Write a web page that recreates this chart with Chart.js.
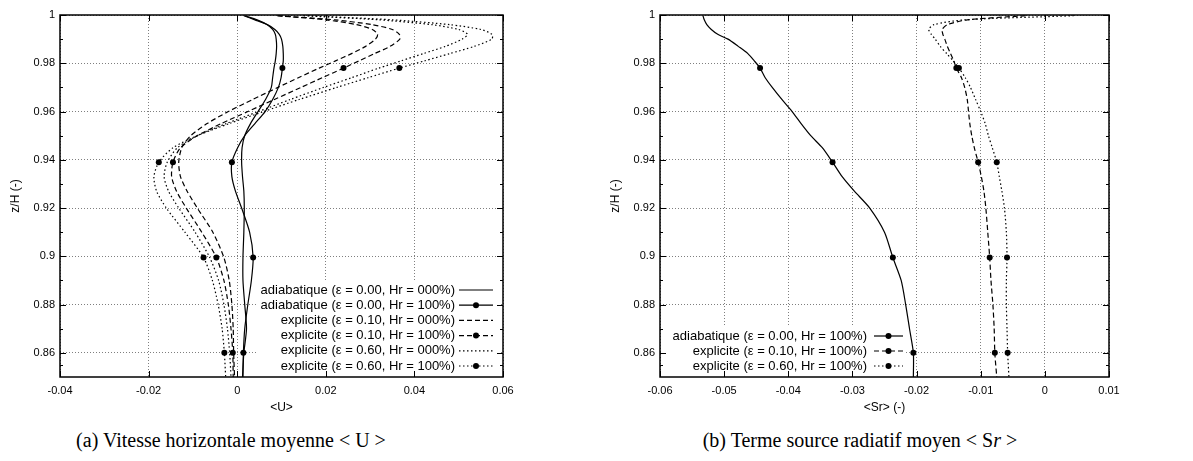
<!DOCTYPE html>
<html lang="fr">
<head>
<meta charset="utf-8">
<script src="https://cdn.jsdelivr.net/npm/chart.js@4/dist/chart.umd.min.js"></script>
<style>
  html, body { margin: 0; padding: 0; background: #fff; }
  #wrap { position: relative; width: 1193px; height: 461px; overflow: hidden; }
  canvas { position: absolute; top: 0; }
  #chart-u { left: 0; }
  #chart-sr { left: 600px; }
  .caption {
    position: absolute; top: 429px; white-space: nowrap; color: #000; transform: translateX(-50%);
    font-family: 'Liberation Serif', 'DejaVu Serif', serif; font-size: 20px;
  }
</style>
</head>
<body>
<div id="wrap">
  <canvas id="chart-u" width="596" height="425"></canvas>
  <canvas id="chart-sr" width="593" height="425"></canvas>
  <div class="caption" style="left:231px">(a) Vitesse horizontale moyenne &lt; U &gt;</div>
  <div class="caption" style="left:860px">(b) Terme source radiatif moyen &lt; S<i>r</i> &gt;</div>
</div>
<script>
// ─── Data ─────────────────────────────────────────────────────────────────────

const Z_LEVELS = [0.9997, 0.998, 0.996, 0.994, 0.992, 0.99, 0.987, 0.984, 0.981, 0.978,
  0.974, 0.97, 0.965, 0.96, 0.955, 0.95, 0.945, 0.939, 0.933, 0.927,
  0.92, 0.91, 0.8995, 0.89, 0.88, 0.87, 0.86, 0.85];
const MARKED_Z = [0.978, 0.939, 0.8995, 0.86];

const U_ADIA_000 = [0.0017, 0.0045, 0.0068, 0.0080, 0.0086, 0.0088, 0.0089, 0.0088, 0.0086, 0.0083,
  0.0080, 0.0077, 0.0064, 0.0047, 0.0030, 0.0017, 0.0011, 0.0010, 0.0012, 0.0015,
  0.0016, 0.0015, 0.0013, 0.0013, 0.0017, 0.0021, 0.0015, 0.0012];
const U_ADIA_100 = [0.0015, 0.0040, 0.0068, 0.0085, 0.0095, 0.0100, 0.0103, 0.0104, 0.0104, 0.0102,
  0.0099, 0.0093, 0.0080, 0.0063, 0.0040, 0.0017, 0.0001, -0.0012, -0.0012, -0.0004,
  0.0010, 0.0028, 0.0036, 0.0032, 0.0024, 0.0017, 0.0014, 0.0013];
const U_EXPL10_000 = [0.0090, 0.0200, 0.0270, 0.0305, 0.0317, 0.0312, 0.0290, 0.0258, 0.0222, 0.0185,
  0.0138, 0.0092, 0.0035, -0.0020, -0.0068, -0.0105, -0.0125, -0.0132, -0.0128, -0.0113,
  -0.0090, -0.0055, -0.0030, -0.0018, -0.0012, -0.0009, -0.0008, -0.0006];
const U_EXPL10_100 = [0.0092, 0.0220, 0.0305, 0.0350, 0.0366, 0.0367, 0.0345, 0.0310, 0.0275, 0.0240,
  0.0192, 0.0144, 0.0084, 0.0024, -0.0036, -0.0090, -0.0128, -0.0145, -0.0148, -0.0137,
  -0.0115, -0.0080, -0.0047, -0.0030, -0.0020, -0.0014, -0.0010, -0.0009];
const U_EXPL60_000 = [0.0150, 0.0320, 0.0440, 0.0500, 0.0520, 0.0508, 0.0470, 0.0420, 0.0370, 0.0320,
  0.0258, 0.0195, 0.0120, 0.0048, -0.0025, -0.0090, -0.0135, -0.0158, -0.0165, -0.0155,
  -0.0132, -0.0095, -0.0062, -0.0042, -0.0030, -0.0022, -0.0017, -0.0014];
const U_EXPL60_100 = [0.0160, 0.0350, 0.0480, 0.0550, 0.0575, 0.0575, 0.0535, 0.0480, 0.0423, 0.0366,
  0.0295, 0.0225, 0.0140, 0.0060, -0.0018, -0.0090, -0.0145, -0.0177, -0.0188, -0.0182,
  -0.0160, -0.0118, -0.0076, -0.0056, -0.0043, -0.0034, -0.0029, -0.0026];

const SR_ADIA_100 = [-0.0533, -0.0531, -0.0527, -0.0520, -0.0510, -0.0494, -0.0478, -0.0463, -0.0453, -0.0444,
  -0.0436, -0.0425, -0.0410, -0.0394, -0.0380, -0.0365, -0.0347, -0.0331, -0.0316, -0.0297,
  -0.0273, -0.0250, -0.0237, -0.0224, -0.0217, -0.0211, -0.0205, -0.0205];
const SR_EXPL10_100 = [-0.0030, -0.0121, -0.0152, -0.0160, -0.0159, -0.0156, -0.0152, -0.0147, -0.0142, -0.0138,
  -0.0130, -0.0125, -0.0121, -0.0119, -0.0117, -0.0114, -0.0110, -0.0104, -0.0099, -0.0095,
  -0.0092, -0.0089, -0.0086, -0.0084, -0.0081, -0.0079, -0.0078, -0.0075];
const SR_EXPL60_100 = [0.0045, -0.0125, -0.0173, -0.0181, -0.0177, -0.0171, -0.0163, -0.0153, -0.0143, -0.0134,
  -0.0124, -0.0116, -0.0108, -0.0100, -0.0093, -0.0088, -0.0082, -0.0075, -0.0071, -0.0067,
  -0.0063, -0.0060, -0.0059, -0.0060, -0.0060, -0.0059, -0.0058, -0.0056];

const U_LABELS = [
  'adiabatique (ε = 0.00, Hr = 000%)',
  'adiabatique (ε = 0.00, Hr = 100%)',
  'explicite (ε = 0.10, Hr = 000%)',
  'explicite (ε = 0.10, Hr = 100%)',
  'explicite (ε = 0.60, Hr = 000%)',
  'explicite (ε = 0.60, Hr = 100%)',
];
const SR_LABELS = [
  'adiabatique (ε = 0.00, Hr = 100%)',
  'explicite (ε = 0.10, Hr = 100%)',
  'explicite (ε = 0.60, Hr = 100%)',
];

const Y_TICKS = [0.86, 0.88, 0.9, 0.92, 0.94, 0.96, 0.98, 1];
const U_X_TICKS = [-0.04, -0.02, 0, 0.02, 0.04, 0.06];
const SR_X_TICKS = [-0.06, -0.05, -0.04, -0.03, -0.02, -0.01, 0, 0.01];

// ─── Styles ───────────────────────────────────────────────────────────────────

const SOLID = [];
const DASHED = [5, 3];
const DOTTED = [1.5, 2.5];
const FONT = 'Liberation Sans';
const GRID_COLOR = 'rgba(0, 0, 0, 0.5)';

const fmt = (v) => String(Math.round(v * 10000) / 10000);

const makeDataset = (label, values, dash, marked) => ({
  label,
  data: values.map((x, i) => ({ x, y: Z_LEVELS[i] })),
  showLine: true,
  borderColor: '#000',
  backgroundColor: '#000',
  borderWidth: 1.2,
  borderDash: dash,
  tension: 0.25,
  pointRadius: (ctx) => (marked && ctx.raw && MARKED_Z.includes(ctx.raw.y) ? 3 : 0),
  pointBorderWidth: 0,
  pointBackgroundColor: '#000',
  pointHoverRadius: 0,
  marked,
});

// ─── Plugins ──────────────────────────────────────────────────────────────────

// key drawn gnuplot-style (text right, sample left of it) on an opaque box,
// then the frame with inward ticks
const gnuplotPlugin = {
  id: 'gnuplotFrame',
  afterDatasetsDraw(chart, args, opts) {
    const { ctx, chartArea: { left, right, top, bottom }, scales: { x, y } } = chart;
    const key = opts.key;
    ctx.save();

    ctx.fillStyle = '#fff';
    ctx.fillRect(key.box[0], key.box[1], key.box[2] - key.box[0], key.box[3] - key.box[1]);
    ctx.font = `13px "${FONT}"`;
    ctx.textAlign = 'right';
    ctx.textBaseline = 'middle';
    chart.data.datasets.forEach((ds, i) => {
      const yy = key.top + i * key.row;
      ctx.fillStyle = '#000';
      ctx.fillText(ds.label, key.textRight, yy);
      ctx.strokeStyle = '#000';
      ctx.lineWidth = ds.borderWidth;
      ctx.setLineDash(ds.borderDash);
      ctx.beginPath();
      ctx.moveTo(key.sample[0], yy);
      ctx.lineTo(key.sample[1], yy);
      ctx.stroke();
      if (ds.marked) {
        ctx.setLineDash([]);
        ctx.beginPath();
        ctx.arc((key.sample[0] + key.sample[1]) / 2, yy, 3, 0, Math.PI * 2);
        ctx.fill();
      }
    });

    ctx.setLineDash([]);
    ctx.strokeStyle = '#000';
    ctx.lineWidth = 1;
    ctx.beginPath();
    x.ticks.forEach(({ value }) => {
      const px = Math.round(x.getPixelForValue(value)) + 0.5;
      ctx.moveTo(px, bottom); ctx.lineTo(px, bottom - 6);
      ctx.moveTo(px, top); ctx.lineTo(px, top + 6);
    });
    Y_TICKS.forEach((value, i) => {
      const py = Math.round(y.getPixelForValue(value)) + 0.5;
      ctx.moveTo(left, py); ctx.lineTo(left + 6, py);
      ctx.moveTo(right, py); ctx.lineTo(right - 6, py);
      const prev = i === 0 ? y.min : Y_TICKS[i - 1];
      const my = Math.round(y.getPixelForValue((value + prev) / 2)) + 0.5;
      ctx.moveTo(left, my); ctx.lineTo(left + 3, my);
      ctx.moveTo(right, my); ctx.lineTo(right - 3, my);
    });
    ctx.stroke();
    ctx.lineWidth = 1.5;
    ctx.strokeRect(left, top, right - left, bottom - top);
    ctx.restore();
  },
};

// ─── Charts ───────────────────────────────────────────────────────────────────

const buildOptions = (xMin, xMax, xTicks, xTitle, rightPad, key) => ({
  responsive: false,
  animation: false,
  layout: { padding: { left: 0, top: 15, right: rightPad, bottom: 0 } },
  plugins: {
    legend: { display: false },
    tooltip: { enabled: false },
    gnuplotFrame: { key },
  },
  scales: {
    x: {
      type: 'linear',
      min: xMin,
      max: xMax,
      afterBuildTicks: (axis) => { axis.ticks = xTicks.map((value) => ({ value })); },
      afterFit: (axis) => { axis.height = 48; },
      grid: { color: GRID_COLOR, lineWidth: 1, drawTicks: false },
      border: { display: false, dash: [1, 2] },
      ticks: { color: '#000', padding: 7, autoSkip: false, maxRotation: 0, font: { family: FONT, size: 11 }, callback: fmt },
      title: { display: true, text: xTitle, color: '#000', font: { family: FONT, size: 12 }, padding: { top: 0, bottom: 10 } },
    },
    y: {
      type: 'linear',
      min: 0.85,
      max: 1,
      afterBuildTicks: (axis) => { axis.ticks = Y_TICKS.map((value) => ({ value })); },
      afterFit: (axis) => { axis.width = 60; },
      grid: { color: GRID_COLOR, lineWidth: 1, drawTicks: false },
      border: { display: false, dash: [1, 2] },
      ticks: { color: '#000', padding: 5, autoSkip: false, font: { family: FONT, size: 11 }, callback: fmt },
      title: { display: true, text: 'z/H (-)', color: '#000', font: { family: FONT, size: 12 }, padding: { top: 8, bottom: 0 } },
    },
  },
});

new Chart(document.getElementById('chart-u'), {
  type: 'scatter',
  data: {
    datasets: [
      makeDataset(U_LABELS[0], U_ADIA_000, SOLID, false),
      makeDataset(U_LABELS[1], U_ADIA_100, SOLID, true),
      makeDataset(U_LABELS[2], U_EXPL10_000, DASHED, false),
      makeDataset(U_LABELS[3], U_EXPL10_100, DASHED, true),
      makeDataset(U_LABELS[4], U_EXPL60_000, DOTTED, false),
      makeDataset(U_LABELS[5], U_EXPL60_100, DOTTED, true),
    ],
  },
  options: buildOptions(-0.04, 0.06, U_X_TICKS, '<U>', 93,
    { box: [257, 282, 499, 377], top: 290, row: 15.2, textRight: 455, sample: [459, 493] }),
  plugins: [gnuplotPlugin],
});

new Chart(document.getElementById('chart-sr'), {
  type: 'scatter',
  data: {
    datasets: [
      makeDataset(SR_LABELS[0], SR_ADIA_100, SOLID, true),
      makeDataset(SR_LABELS[1], SR_EXPL10_100, DASHED, true),
      makeDataset(SR_LABELS[2], SR_EXPL60_100, DOTTED, true),
    ],
  },
  options: buildOptions(-0.06, 0.01, SR_X_TICKS, '<Sr> (-)', 84,
    { box: [61, 327, 306, 377], top: 336, row: 15, textRight: 267, sample: [274, 303] }),
  plugins: [gnuplotPlugin],
});
</script>
</body>
</html>
